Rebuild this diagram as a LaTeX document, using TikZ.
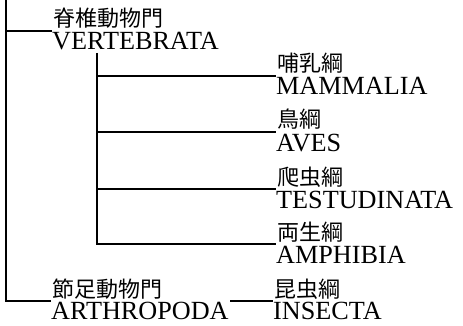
\documentclass[tikz,border=0pt]{standalone}
\usepackage{fontspec}
\setmainfont{Liberation Serif}
\newfontfamily\cjk{Noto Sans CJK JP}
\tikzset{
  ln/.style={line width=1.2pt, line cap=butt},
  cj/.style={anchor=base west, inner sep=0pt, font=\cjk\fontsize{22}{22}\selectfont},
  la/.style={anchor=base west, inner sep=0pt, font=\fontsize{26.2}{26}\selectfont},
}
\begin{document}
\begin{tikzpicture}[x=1pt,y=-1pt]
\useasboundingbox (0,0) rectangle (463,326);
% coordinates where connectors meet labels
\coordinate (v) at (52,31);
\coordinate (m) at (276,76);
\coordinate (b) at (276,132);
\coordinate (t) at (276,189);
\coordinate (p) at (276,244);
\coordinate (ar) at (51,301);
\coordinate (in) at (273,301);
% labels
\node[cj] (v1) at ([xshift=1pt,yshift=4pt]v) {脊椎動物門};
\node[la] (v2) at ([xshift=0pt,yshift=-19pt]v) {VERTEBRATA};
\node[cj] (m1) at ([xshift=1pt,yshift=4pt]m) {哺乳綱};
\node[la] (m2) at ([xshift=0pt,yshift=-19pt]m) {MAMMALIA};
\node[cj] (b1) at ([xshift=1pt,yshift=4pt]b) {鳥綱};
\node[la] (b2) at ([xshift=0pt,yshift=-19pt]b) {AVES};
\node[cj] (t1) at ([xshift=1pt,yshift=4pt]t) {爬虫綱};
\node[la] (t2) at ([xshift=0pt,yshift=-19pt]t) {TESTUDINATA};
\node[cj] (p1) at ([xshift=1pt,yshift=4pt]p) {両生綱};
\node[la] (p2) at ([xshift=0pt,yshift=-19pt]p) {AMPHIBIA};
\node[cj] (ar1) at ([xshift=1pt,yshift=4pt]ar) {節足動物門};
\node[la] (ar2) at ([xshift=0pt,yshift=-18pt]ar) {ARTHROPODA};
\node[cj] (in1) at ([xshift=1pt,yshift=4pt]in) {昆虫綱};
\node[la] (in2) at ([xshift=0pt,yshift=-18pt]in) {INSECTA};
% trunks
\coordinate (top) at (6,0);
\coordinate (vj) at (6,31);
\coordinate (aj) at (6,301);
\coordinate (itop) at (97,53);
\coordinate (mj) at (97,76);
\coordinate (bj) at (97,132);
\coordinate (tj) at (97,189);
\coordinate (pj) at (97,244);
\coordinate (are) at (230,301);
\draw[ln] (top) -- (aj) -- (ar);
\draw[ln] (vj) -- (v);
\draw[ln] (itop) -- (pj) -- (p);
\draw[ln] (mj) -- (m);
\draw[ln] (bj) -- (b);
\draw[ln] (tj) -- (t);
\draw[ln] (are) -- (in);
\end{tikzpicture}
\end{document}
